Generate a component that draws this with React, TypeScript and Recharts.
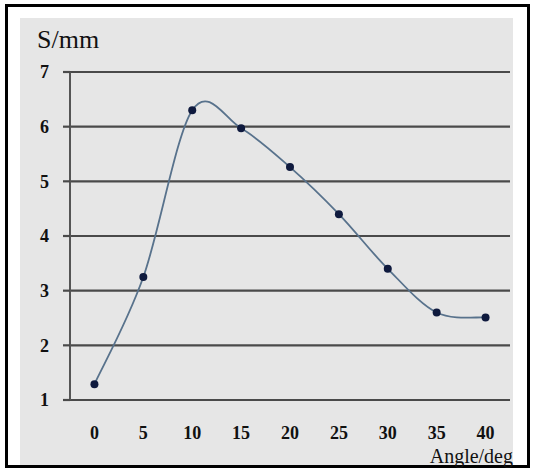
import React from "react";
import {
  LineChart,
  Line,
  XAxis,
  YAxis,
  CartesianGrid,
} from "recharts";

const angles = [0, 5, 10, 15, 20, 25, 30, 35, 40];
const displacement = [1.29, 3.25, 6.3, 5.97, 5.26, 4.4, 3.4, 2.6, 2.51];
const xTicks = [0, 5, 10, 15, 20, 25, 30, 35, 40];
const xMarks = [2.5, 7.5, 12.5, 17.5, 22.5, 27.5, 32.5, 37.5, 42.5];
const yTicks = [1, 2, 3, 4, 5, 6, 7];

const data = angles.map((a, i) => ({ angle: a, s: displacement[i] }));

const serif = "'Liberation Serif', 'Times New Roman', serif";

// spreadsheet-style smoothed line (cardinal bezier, 1/6 tangents)
function smoothCurve(context: any) {
  let pts: number[][] = [];
  return {
    areaStart() {},
    areaEnd() {},
    lineStart() {
      pts = [];
    },
    point(x: number, y: number) {
      pts.push([+x, +y]);
    },
    lineEnd() {
      if (!pts.length) return;
      context.moveTo(pts[0][0], pts[0][1]);
      for (let i = 0; i < pts.length - 1; i++) {
        const p0 = pts[i - 1] || pts[i];
        const p1 = pts[i];
        const p2 = pts[i + 1];
        const p3 = pts[i + 2] || p2;
        context.bezierCurveTo(
          p1[0] + (p2[0] - p0[0]) / 6,
          p1[1] + (p2[1] - p0[1]) / 6,
          p2[0] - (p3[0] - p1[0]) / 6,
          p2[1] - (p3[1] - p1[1]) / 6,
          p2[0],
          p2[1]
        );
      }
    },
  };
}

function XLabel(props: any) {
  const { x, y, payload } = props;
  return (
    <text
      x={x}
      y={y + 31}
      textAnchor="middle"
      fontFamily={serif}
      fontWeight="bold"
      fontSize={18}
      fill="#111"
    >
      {payload.value}
    </text>
  );
}

export default function App() {
  return (
    <div style={{ position: "absolute", left: 0, top: 0, width: 535, height: 472, background: "#fff" }}>
      <div
        style={{
          position: "absolute",
          left: 5,
          top: 4,
          width: 519,
          height: 458,
          border: "3px solid #000",
        }}
      />
      <div
        style={{
          position: "absolute",
          left: 20,
          top: 18,
          width: 493,
          height: 447,
          background: "#e6e6e6",
        }}
      />
      <div style={{ position: "absolute", left: 0, top: 0 }}>
        <LineChart
          width={535}
          height={472}
          data={data}
          margin={{ top: 72, right: 25, bottom: 32, left: 0 }}
        >
          <CartesianGrid horizontal vertical={false} stroke="#4a4a4a" strokeWidth={2.2} />
          <XAxis
            xAxisId="marks"
            dataKey="angle"
            type="number"
            domain={[-2.5, 42.5]}
            ticks={xMarks}
            tickSize={5}
            tickLine={{ stroke: "#555", strokeWidth: 1.5 }}
            tick={() => <g />}
            axisLine={{ stroke: "#4a4a4a", strokeWidth: 2.2 }}
            height={0}
          />
          <XAxis
            xAxisId="main"
            dataKey="angle"
            type="number"
            domain={[-2.5, 42.5]}
            ticks={xTicks}
            tickLine={false}
            axisLine={false}
            tick={<XLabel />}
            height={40}
          />
          <YAxis
            type="number"
            domain={[1, 7]}
            ticks={yTicks}
            width={70}
            tickSize={7}
            tickMargin={14}
            tickLine={{ stroke: "#4a4a4a", strokeWidth: 2.2 }}
            axisLine={{ stroke: "#555", strokeWidth: 2 }}
            tick={{ fontFamily: serif, fontWeight: "bold", fontSize: 18, fill: "#111" }}
          />
          <Line
            xAxisId="main"
            type={smoothCurve as any}
            dataKey="s"
            stroke="#58728c"
            strokeWidth={1.8}
            dot={{ r: 4, fill: "#0f1a3e", stroke: "none" }}
            isAnimationActive={false}
          />
          <text x={37} y={48} fontFamily={serif} fontSize={26} fill="#111">
            S/mm
          </text>
          <text x={513} y={463} textAnchor="end" fontFamily={serif} fontSize={20} fill="#111">
            Angle/deg
          </text>
        </LineChart>
      </div>
    </div>
  );
}
